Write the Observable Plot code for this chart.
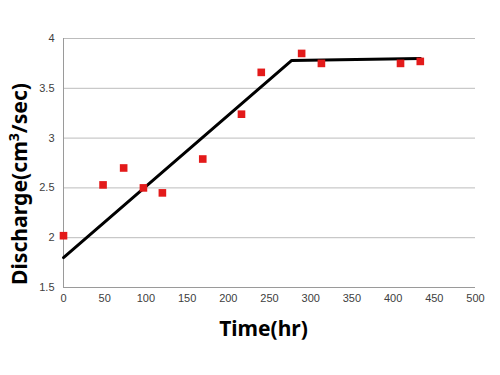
<!DOCTYPE html>
<html>
<head>
<meta charset="utf-8">
<script src="https://cdn.jsdelivr.net/npm/d3@7"></script>
<script src="https://cdn.jsdelivr.net/npm/@observablehq/plot@0.6"></script>
<style>
  html, body { margin: 0; padding: 0; background: #fff; }
</style>
</head>
<body>
<div id="chart"></div>
<script>
// Measured points
const timeHr = [0, 48, 73, 97, 120, 169, 216, 240, 289, 313, 409, 433];
const discharge = [2.02, 2.53, 2.70, 2.50, 2.45, 2.79, 3.24, 3.66, 3.85, 3.75, 3.75, 3.77];
// Fitted piecewise line
const fitTime = [0, 277, 433];
const fitDischarge = [1.80, 3.78, 3.80];
// Axis ticks and titles
const xTicks = [0, 50, 100, 150, 200, 250, 300, 350, 400, 450, 500];
const yTicks = [1.5, 2, 2.5, 3, 3.5, 4];
const gridTicks = [2, 2.5, 3, 3.5, 4];
const xTitle = "Time(hr)";
const yTitle = "Discharge(cm³/sec)";

const points = timeHr.map((t, i) => ({t, q: discharge[i]}));
const fit = fitTime.map((t, i) => ({t, q: fitDischarge[i]}));

const chart = Plot.plot({
  width: 500,
  height: 375,
  marginLeft: 63,
  marginRight: 25,
  marginTop: 38,
  marginBottom: 88,
  style: {fontFamily: "'Liberation Sans', Arial, sans-serif", fontSize: "11px", color: "#404040", background: "#fff"},
  x: {domain: [0, 500]},
  y: {domain: [1.5, 4]},
  marks: [
    Plot.ruleY(gridTicks, {stroke: "#bcbcbc", strokeWidth: 1}),
    Plot.ruleY([1.5], {stroke: "#9a9a9a", strokeWidth: 1}),
    Plot.ruleX([0], {stroke: "#9a9a9a", strokeWidth: 1}),
    Plot.axisX({ticks: xTicks, tickFormat: d => String(d), tickSize: 0, tickPadding: 7, label: null, fill: "#404040"}),
    Plot.axisY({ticks: yTicks, tickFormat: d => String(d), tickSize: 0, tickPadding: 9, label: null, fill: "#404040"}),
    Plot.line(fit, {x: "t", y: "q", stroke: "#000", strokeWidth: 3}),
    Plot.dot(points, {x: "t", y: "q", symbol: "square", r: 4.3, fill: "#e31a1a", stroke: "none"}),
    Plot.text([xTitle], {frameAnchor: "bottom", dx: -6, dy: 42, text: d => d, fontSize: 21, fontWeight: "bold", fill: "#000", fontFamily: "'Noto Sans', 'Open Sans', sans-serif", lineAnchor: "middle", textAnchor: "middle"}),
    Plot.text([yTitle], {frameAnchor: "left", dx: -43, dy: 21, rotate: -90, text: d => d, fontSize: 21, fontWeight: "bold", fill: "#000", fontFamily: "'Noto Sans', 'Open Sans', sans-serif", lineAnchor: "middle", textAnchor: "middle"})
  ]
});
// Render the "3" of cm³ as a smaller superscript, as in the reference
chart.querySelectorAll("text").forEach(t => {
  if (t.textContent === yTitle) {
    t.textContent = "";
    const ns = "http://www.w3.org/2000/svg";
    const a = document.createElementNS(ns, "tspan"); a.textContent = "Discharge(cm";
    const b = document.createElementNS(ns, "tspan"); b.textContent = "3"; b.setAttribute("font-size", "14"); b.setAttribute("dy", "-8");
    const c = document.createElementNS(ns, "tspan"); c.textContent = "/sec)"; c.setAttribute("dy", "8");
    t.append(a, b, c);
    t.setAttribute("textLength", "202");
    t.setAttribute("lengthAdjust", "spacingAndGlyphs");
  }
});
document.getElementById("chart").appendChild(chart);
</script>
</body>
</html>
